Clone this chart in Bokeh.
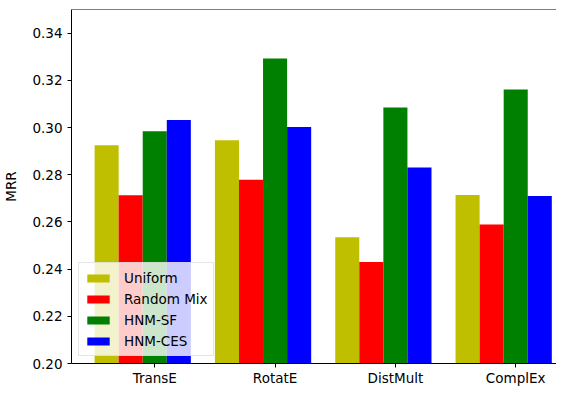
from bokeh.plotting import figure
from bokeh.models import ColumnDataSource, Range1d, FixedTicker, Span, Legend, LegendItem
from bokeh.transform import dodge
from bokeh.embed import file_html
from bokeh.resources import INLINE

categories = ["TransE", "RotatE", "DistMult", "ComplEx"]
uniform = [0.2925, 0.2946, 0.2535, 0.2714]
random_mix = [0.2713, 0.2779, 0.2430, 0.2589]
hnm_sf = [0.2984, 0.3292, 0.3085, 0.3161]
hnm_ces = [0.3032, 0.3002, 0.2831, 0.2710]
y_ticks = [0.20, 0.22, 0.24, 0.26, 0.28, 0.30, 0.32, 0.34]

series = [
    ("Uniform", "uniform", "#bfbf00", -0.4),
    ("Random Mix", "random_mix", "#ff0000", -0.2),
    ("HNM-SF", "hnm_sf", "#008000", 0.0),
    ("HNM-CES", "hnm_ces", "#0000ff", 0.2),
]

src = ColumnDataSource(dict(
    idx=list(range(len(categories))),
    uniform=uniform, random_mix=random_mix, hnm_sf=hnm_sf, hnm_ces=hnm_ces,
))

FONT = "DejaVu Sans"
FS = "13.5px"

p = figure(width=556, height=388, output_backend="svg", toolbar_location=None,
           x_range=Range1d(-0.692, 3.339), y_range=Range1d(0.20, 0.35),
           min_border_left=71, min_border_right=0, min_border_top=9, min_border_bottom=0)
p.outline_line_color = None
p.xgrid.visible = False
p.ygrid.visible = False
p.background_fill_color = "white"
p.border_fill_color = "white"

items = []
for name, col, color, off in series:
    r = p.vbar(x=dodge("idx", off), top=col, bottom=0.20, width=0.2, source=src,
               fill_color=color, line_color=None)
    items.append(LegendItem(label=name, renderers=[r]))

p.add_layout(Span(location=0.35, dimension="width", line_color="black", line_width=1))

for ax in (p.xaxis[0], p.yaxis[0]):
    ax.axis_line_color = "black"
    ax.axis_line_width = 1
    ax.major_tick_line_color = "black"
    ax.major_tick_out = 4
    ax.major_tick_in = 0
    ax.minor_tick_line_color = None
    ax.major_label_text_font = FONT
    ax.major_label_text_font_size = FS
    ax.major_label_text_color = "black"

p.xaxis.ticker = FixedTicker(ticks=list(range(len(categories))))
p.xaxis.major_label_overrides = {i: c for i, c in enumerate(categories)}
p.xaxis.major_label_standoff = 2

p.yaxis.ticker = FixedTicker(ticks=y_ticks)
p.yaxis.major_label_overrides = {t: f"{t:.2f}" for t in y_ticks}
p.yaxis.major_label_standoff = 5
p.yaxis.axis_label = "MRR"
p.yaxis.axis_label_text_font = FONT
p.yaxis.axis_label_text_font_size = FS
p.yaxis.axis_label_text_font_style = "normal"
p.yaxis.axis_label_text_color = "black"
p.yaxis.axis_label_standoff = 10

legend = Legend(items=items, location=(7, 7), margin=0,
                padding=5, spacing=2, label_height=19, glyph_height=10, glyph_width=28,
                label_standoff=12, label_text_font=FONT, label_text_font_size=FS,
                label_text_color="black",
                background_fill_color="white", background_fill_alpha=0.8,
                border_line_color="#cccccc", border_line_width=1)
p.add_layout(legend)

open("out.html", "w").write(file_html(p, INLINE))
